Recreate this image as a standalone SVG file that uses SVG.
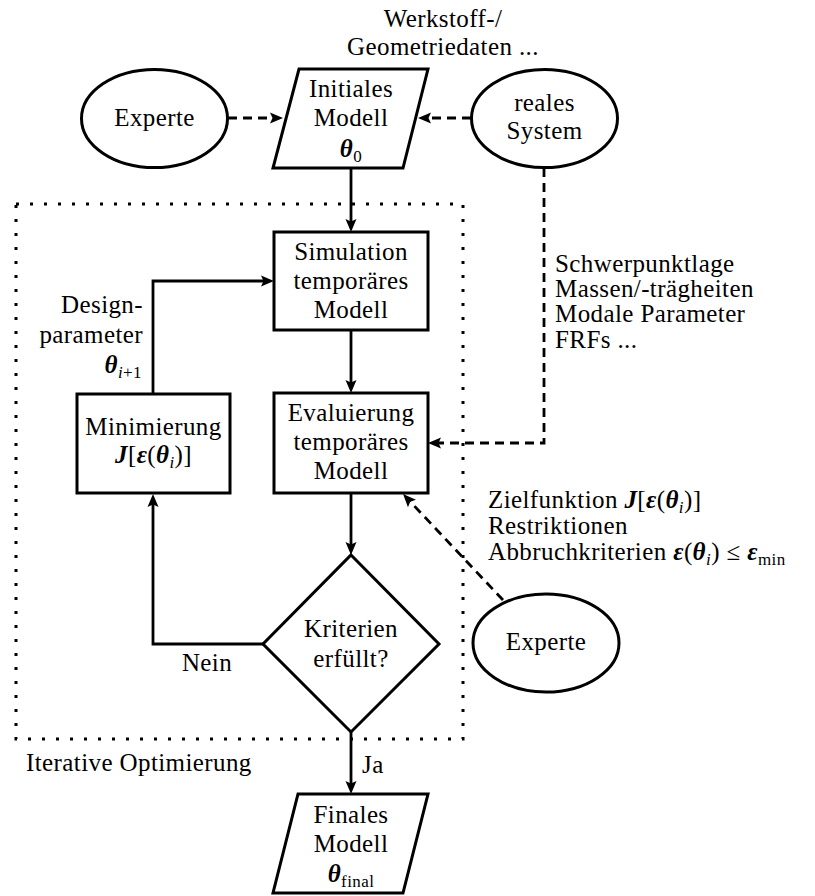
<svg xmlns="http://www.w3.org/2000/svg" width="815" height="896" viewBox="0 0 815 896" font-family="Liberation Serif, serif" font-size="25">
  <style>
    text { fill: #000; letter-spacing: 0.4px; }
    .c { text-anchor: middle; }
    .r { text-anchor: end; }
    .m { font-weight: bold; font-style: italic; }
    .it { font-style: italic; }
    .s { font-size: 17px; }
    .shape { fill: #fff; stroke: #000; stroke-width: 3; }
    .edge { fill: none; stroke: #000; stroke-width: 2.8; }
    .dash { stroke-dasharray: 9 6; }
    .frame { fill: none; stroke: #000; stroke-width: 3; stroke-dasharray: 3 11; }
  </style>
  <defs>
    <marker id="ah" markerUnits="userSpaceOnUse" viewBox="0 0 14 12" markerWidth="14" markerHeight="12" refX="3" refY="6" orient="auto">
      <path d="M0,0.5 L13,6 L0,11.5 L2.5,6 z" fill="#000"/>
    </marker>
  </defs>

  <!-- loop boundary -->
  <g id="iteration-frame">
    <rect class="frame" x="16" y="204" width="447" height="535"/>
    <text x="26" y="771">Iterative Optimierung</text>
  </g>

  <!-- connectors -->
  <g id="connectors">
    <path class="edge dash" d="M228,118 H273" marker-end="url(#ah)"/>
    <path class="edge dash" d="M471,118 H428" marker-end="url(#ah)"/>
    <path class="edge" d="M351,168 V222" marker-end="url(#ah)"/>
    <path class="edge" d="M351,330 V383" marker-end="url(#ah)"/>
    <path class="edge" d="M351,493 V545" marker-end="url(#ah)"/>
    <path class="edge" d="M351,732 V784" marker-end="url(#ah)"/>
    <path class="edge" d="M263,644 H153 V504" marker-end="url(#ah)"/>
    <path class="edge" d="M153,394 V281 H264" marker-end="url(#ah)"/>
    <path class="edge dash" d="M544,168 V443 H438" marker-end="url(#ah)"/>
    <path class="edge dash" d="M503,600 L409.9,501.3" marker-end="url(#ah)"/>
    <text class="c" x="207" y="671">Nein</text>
    <text x="362" y="773">Ja</text>
    <text class="r" x="143" y="313">Design-</text>
    <text class="r" x="143" y="343">parameter</text>
    <text class="r" x="142" y="373"><tspan class="m">θ</tspan><tspan class="s" dy="5"><tspan class="it">i</tspan>+1</tspan></text>
  </g>

  <!-- annotations -->
  <g id="material-data">
    <text class="c" x="443" y="27">Werkstoff-/</text>
    <text class="c" x="443" y="55">Geometriedaten ...</text>
  </g>
  <g id="measurements">
    <text x="555" y="272">Schwerpunktlage</text>
    <text x="555" y="297">Massen/-trägheiten</text>
    <text x="555" y="322">Modale Parameter</text>
    <text x="555" y="348">FRFs ...</text>
  </g>
  <g id="criteria">
    <text x="488" y="508">Zielfunktion <tspan class="m">J</tspan>[<tspan class="m">ε</tspan>(<tspan class="m">θ</tspan><tspan class="s it" dy="5">i</tspan><tspan dy="-5">)]</tspan></text>
    <text x="488" y="534">Restriktionen</text>
    <text x="488" y="560">Abbruchkriterien <tspan class="m">ε</tspan>(<tspan class="m">θ</tspan><tspan class="s it" dy="5">i</tspan><tspan dy="-5">) ≤ </tspan><tspan class="m">ε</tspan><tspan class="s" dy="5">min</tspan></text>
  </g>

  <!-- nodes -->
  <g id="expert-top">
    <ellipse class="shape" cx="154.5" cy="118.5" rx="73" ry="49"/>
    <text class="c" x="154.5" y="126">Experte</text>
  </g>
  <g id="initial-model">
    <polygon class="shape" points="299,69 428,69 403,168 273,168"/>
    <text class="c" x="351" y="97">Initiales</text>
    <text class="c" x="351" y="126">Modell</text>
    <text class="c" x="351" y="157"><tspan class="m">θ</tspan><tspan class="s" dy="5">0</tspan></text>
  </g>
  <g id="real-system">
    <ellipse class="shape" cx="544.5" cy="118.5" rx="73" ry="49"/>
    <text class="c" x="544.5" y="111">reales</text>
    <text class="c" x="544.5" y="139">System</text>
  </g>
  <g id="simulation">
    <rect class="shape" x="274" y="232" width="154" height="98"/>
    <text class="c" x="351" y="260">Simulation</text>
    <text class="c" x="351" y="289">temporäres</text>
    <text class="c" x="351" y="318">Modell</text>
  </g>
  <g id="evaluation">
    <rect class="shape" x="274" y="393" width="154" height="100"/>
    <text class="c" x="351" y="421">Evaluierung</text>
    <text class="c" x="351" y="450">temporäres</text>
    <text class="c" x="351" y="479">Modell</text>
  </g>
  <g id="minimisation">
    <rect class="shape" x="77" y="394" width="153" height="99"/>
    <text class="c" x="153.5" y="435">Minimierung</text>
    <text class="c" x="153.5" y="463"><tspan class="m">J</tspan>[<tspan class="m">ε</tspan>(<tspan class="m">θ</tspan><tspan class="s it" dy="5">i</tspan><tspan dy="-5">)]</tspan></text>
  </g>
  <g id="criteria-check">
    <polygon class="shape" points="351,555 439,644 351,732 263,644"/>
    <text class="c" x="351" y="637">Kriterien</text>
    <text class="c" x="351" y="667">erfüllt?</text>
  </g>
  <g id="expert-bottom">
    <ellipse class="shape" cx="546" cy="643" rx="73" ry="49"/>
    <text class="c" x="546" y="650">Experte</text>
  </g>
  <g id="final-model">
    <polygon class="shape" points="298,794 428,794 403,893 273,893"/>
    <text class="c" x="351" y="823">Finales</text>
    <text class="c" x="351" y="852">Modell</text>
    <text class="c" x="351" y="882"><tspan class="m">θ</tspan><tspan class="s" dy="5">final</tspan></text>
  </g>
</svg>
